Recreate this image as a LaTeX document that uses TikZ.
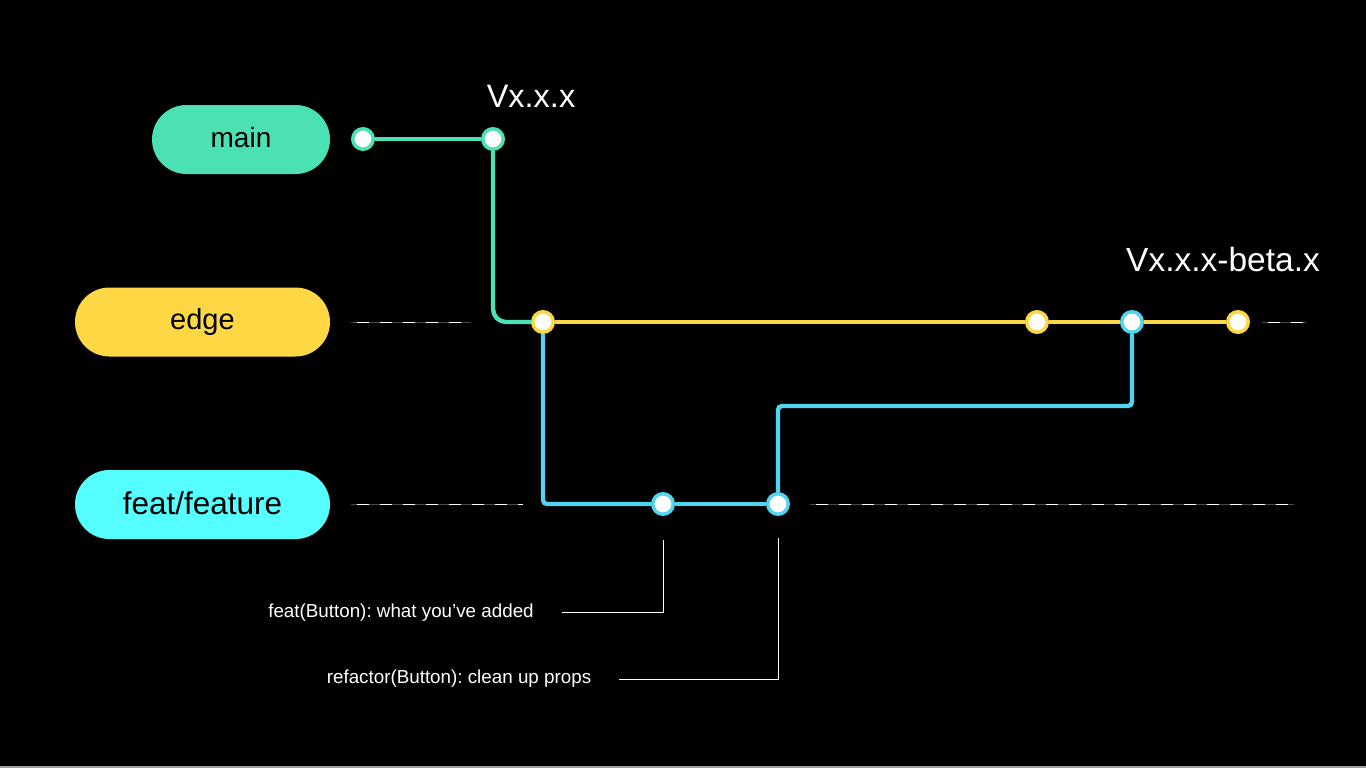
\documentclass[tikz,border=0pt]{standalone}
\usepackage{fontspec}
\setmainfont{Liberation Sans}
\definecolor{gmain}{HTML}{4BE1B5}
\definecolor{yedge}{HTML}{FDD744}
\definecolor{cfeat}{HTML}{55FFFF}
\definecolor{bline}{HTML}{52D3F0}
\definecolor{dgray}{HTML}{4A4A4A}
\definecolor{lgray}{HTML}{A0A0A0}
\begin{document}
\frenchspacing
\begin{tikzpicture}[x=1pt,y=-1pt,
  pill/.style={rounded corners=34.5pt, minimum height=69pt, inner sep=0pt, text=black,
    text height=15pt, text depth=0pt, font=\fontsize{28}{32}\selectfont},
  commit/.style={circle, fill=white, line width=3.5pt, minimum size=20.5pt, inner sep=0pt},
  branch/.style={line width=4.4pt},
  guide/.style={dgray, line width=1pt},
  guidedash/.style={white, line width=1pt, dash pattern=on 12pt off 11pt, dash phase=-6pt},
  ann/.style={white, line width=0.9pt},
  anntext/.style={text=white, font=\fontsize{18.8}{22}\selectfont, inner sep=0pt, anchor=base},
  tag/.style={text=white, font=\fontsize{33.5}{38}\selectfont, inner sep=0pt}]
\useasboundingbox (0,0) rectangle (1366,768);
\fill[black] (0,0) rectangle (1366,768);
\draw[lgray, line width=1.5pt] (0,767) -- (1366,767);

% branch labels
\node[pill, fill=gmain, minimum width=178pt] (lmain) at (241,139.5) {main};
\node[pill, fill=yedge, minimum width=255pt, font=\fontsize{29}{32}\selectfont] (ledge) at (202.5,322) {edge};
\node[pill, fill=cfeat, minimum width=255pt, text height=19pt, font=\fontsize{31.5}{34}\selectfont] (lfeat) at (202.5,504.5) {feat/feature};

% commits
\node[commit, draw=gmain] (m1) at (363,139) {};
\node[commit, draw=gmain] (m2) at (493,139) {};
\node[commit, draw=yedge] (e1) at (543,322) {};
\node[commit, draw=yedge] (e2) at (1037,322) {};
\node[commit, draw=bline] (e3) at (1132,322) {};
\node[commit, draw=yedge] (e4) at (1238,322) {};
\node[commit, draw=bline] (f1) at (663,504) {};
\node[commit, draw=bline] (f2) at (778,504) {};

% tags
\node[tag, font=\fontsize{32.5}{38}\selectfont] (t1) at (531,96) {Vx.x.x};
\node[tag] (t2) at (1223,260) {Vx.x.x-beta.x};

% branches
\draw[branch, gmain] (m1) -- (m2);
\draw[branch, gmain, rounded corners=13pt] (m2) |- (e1);
\draw[branch, yedge] (e1) -- (e2);
\draw[branch, yedge] (e2) -- (e3);
\draw[branch, yedge] (e3) -- (e4);
\draw[branch, bline, rounded corners=4pt] (e1) |- (f1);
\draw[branch, bline] (f1) -- (f2);
\coordinate (bend) at (1132,406);
\draw[branch, bline, rounded corners=4pt] (f2) |- (bend) -- (e3);

% guide lines
\coordinate (g1a) at (351,322); \coordinate (g1b) at (471,322);
\coordinate (g2a) at (1262,322); \coordinate (g2b) at (1306,322);
\coordinate (g3a) at (351,504); \coordinate (g3b) at (523,504);
\coordinate (g4a) at (810,504); \coordinate (g4b) at (1294,504);
\foreach \a/\b in {g1a/g1b,g2a/g2b,g3a/g3b,g4a/g4b}{
  \draw[guide] (\a) -- (\b);
  \draw[guidedash] (\a) -- (\b);
}

% annotations
\node[anntext] (n1) at (401,617) {feat(Button): what you’ve added};
\node[anntext] (n2) at (459,683) {refactor(Button): clean up props};
\coordinate (a1) at (663,540); \coordinate (a1e) at (562,612.5);
\coordinate (a2) at (778,538); \coordinate (a2e) at (619,679.5);
\draw[ann] (a1) |- (a1e);
\draw[ann] (a2) |- (a2e);
\end{tikzpicture}
\end{document}
